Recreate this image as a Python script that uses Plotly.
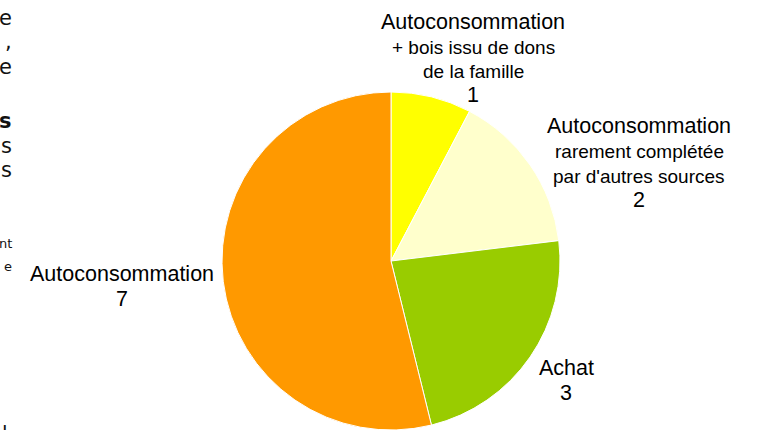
import plotly.graph_objects as go

# data
labels = ["Autoconsommation + bois issu de dons de la famille",
          "Autoconsommation rarement complétée par d'autres sources",
          "Achat",
          "Autoconsommation"]
values = [1, 2, 3, 7]
colors = ["#FFFF00", "#FFFFCC", "#99CC00", "#FF9900"]

# label text: (title, sub lines)
label_titles = ["Autoconsommation", "Autoconsommation", "Achat", "Autoconsommation"]
label_subs = [["+ bois issu de dons", "de la famille"],
              ["rarement complétée", "par d'autres sources"],
              [],
              []]

# label block positions in pixels (center x, y of first line)
label_pos = [(473, 22), (639, 126), (566, 368), (122, 274)]

# cut-off text from the surrounding page on the left
frag_text = ["e", ",", "e", "<b>s</b>", "s", "s", "nt", "e"]
frag_y = [18, 42, 67, 121, 146, 170, 244, 266]
frag_size = [21, 21, 21, 21, 21, 21, 13, 13]

W, H = 764, 430
FONT = "Liberation Sans, Arial, sans-serif"
BIG, SMALL = 21.5, 19
LINE = 24.5


def px(x, y):
    return x / W, 1 - y / H


fig = go.Figure(go.Pie(
    labels=labels, values=values, sort=False, direction="clockwise",
    rotation=0, textinfo="none",
    marker=dict(colors=colors, line=dict(color="white", width=1)),
    domain=dict(x=[221 / W, 561 / W], y=[0, 1 - 92 / H]),
    showlegend=False,
))

annotations = []
for title, subs, val, (cx, cy) in zip(label_titles, label_subs, values, label_pos):
    lines = [(title, BIG)] + [(s, SMALL) for s in subs] + [(str(val), BIG)]
    for i, (txt, sz) in enumerate(lines):
        x, y = px(cx, cy + i * LINE + (1 if sz == SMALL else 0))
        annotations.append(dict(x=x, y=y, xref="paper", yref="paper", text=txt,
                                showarrow=False, xanchor="center", yanchor="middle",
                                font=dict(family=FONT, size=sz, color="#000")))

for txt, y, sz in zip(frag_text, frag_y, frag_size):
    x, yy = px(14, y)
    annotations.append(dict(x=x, y=yy, xref="paper", yref="paper", text=txt,
                            showarrow=False, xanchor="right", yanchor="middle",
                            font=dict(family="DejaVu Sans", size=sz, color="#111")))
x, yy = px(10, 419)
annotations.append(dict(x=x, y=yy, xref="paper", yref="paper", text="l",
                        showarrow=False, xanchor="right", yanchor="top",
                        font=dict(family="DejaVu Sans", size=20, color="#111")))

fig.update_layout(
    width=W, height=H, margin=dict(l=0, r=0, t=0, b=0),
    paper_bgcolor="white", plot_bgcolor="white",
    annotations=annotations,
)

# drop the default 8px body margin so the figure sits at the page corner
fig.write_html("out.html", config={"displayModeBar": False},
               post_script="document.body.style.margin='0';")
